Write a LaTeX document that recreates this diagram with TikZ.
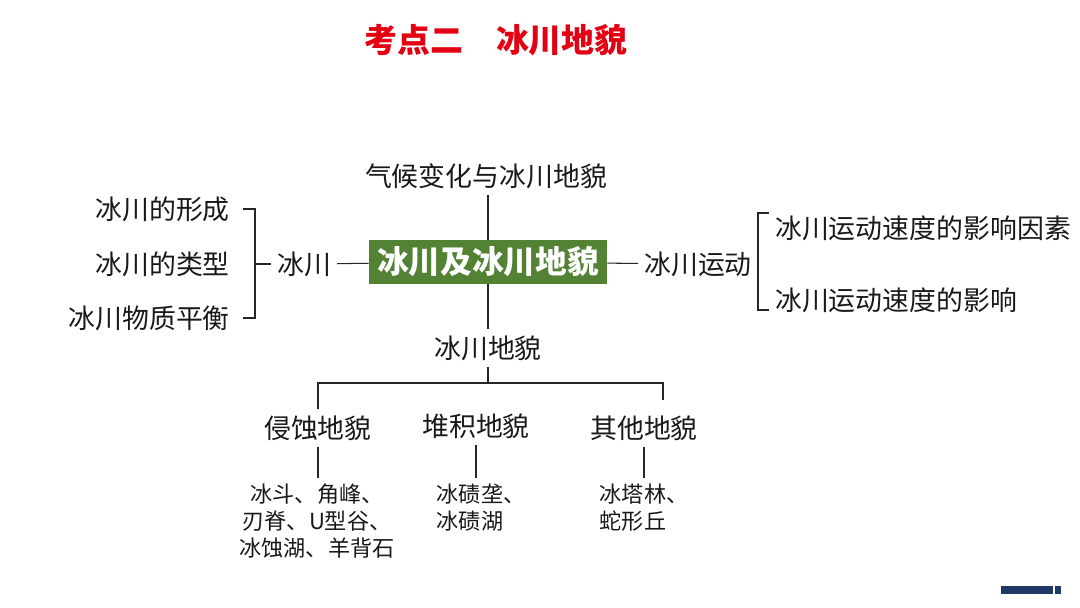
\documentclass[tikz,border=0pt]{standalone}
\usepackage{fontspec}
\setmainfont{Noto Sans CJK SC}
\definecolor{coregreen}{RGB}{84,130,53}
\definecolor{titlered}{RGB}{226,0,18}
\definecolor{barblue}{RGB}{31,56,100}
\begin{document}
\begin{tikzpicture}[x=0.02cm,y=-0.02cm,
    item/.style={font=\fontsize{15.3}{18}\selectfont,text=black!90},
    small/.style={font=\fontsize{12.6}{15.3}\selectfont,text=black!90},
    link/.style={draw=black!85,line width=0.6pt}]
  \useasboundingbox (0,0) rectangle (1080,608);
  % title
  \node[font=\fontsize{18.7}{22}\selectfont\bfseries,text=titlered] (title) at (496,40) {考点二\hspace{1em}冰川地貌};
  % centre
  \node[fill=coregreen,text=white,font=\fontsize{18}{20}\selectfont\bfseries,
        minimum width=4.76cm,minimum height=0.88cm] (core) at (488,262) {冰川及冰川地貌};
  \node[item] (climate) at (486,176) {气候变化与冰川地貌};
  \draw[link] (core.north) -- (core.north |- climate.south);
  % left branch
  \node[item] (glacier) at (304,264) {冰川};
  \node[item,anchor=east] (form) at (236,209) {冰川的形成};
  \node[item,anchor=east] (kind) at (236,264) {冰川的类型};
  \node[item,anchor=east] (balance) at (236,318) {冰川物质平衡};
  \coordinate (lbt) at (255,209);
  \coordinate (lbb) at (255,318);
  \draw[link] ([xshift=4pt]form.east) -- (lbt) -- (lbb) -- ([xshift=4pt]balance.east);
  \draw[link] (lbt |- glacier) -- (glacier.west);
  \draw[link] (glacier) -- (core);
  % right branch
  \node[item] (motion) at (698,264) {冰川运动};
  \node[item,anchor=west] (factor) at (769,228) {冰川运动速度的影响因素};
  \node[item,anchor=west] (effect) at (769,300) {冰川运动速度的影响};
  \coordinate (rbt) at (758,213);
  \coordinate (rbb) at (758,310);
  \draw[link] (core) -- (motion);
  \draw[link] (factor.west |- rbt) -- (rbt) -- (rbb) -- (effect.west |- rbb);
  \draw[link] (motion.east) -- (motion.east -| rbt);
  % lower branch
  \node[item] (landform) at (488,348) {冰川地貌};
  \draw[link] (core) -- (landform);
  \node[item] (erosion) at (318,428) {侵蚀地貌};
  \node[item] (deposit) at (476,426) {堆积地貌};
  \node[item] (other) at (644,428) {其他地貌};
  \coordinate (bus) at (490,383);
  \coordinate (busr) at (663,383);
  \coordinate (dropr) at (663,400);
  \draw[link] (landform.south) -- (landform.south |- bus);
  \draw[link] (erosion.north) -- (erosion.north |- bus) -- (busr) -- (dropr);
  \node[small,align=center] (erosionex) at (317,521) {冰斗、角峰、\\刃脊、U型谷、\\冰蚀湖、羊背石};
  \node[small,align=left] (depositex) at (481,508) {冰碛垄、\\冰碛湖};
  \node[small,align=left] (otherex) at (644,508) {冰塔林、\\蛇形丘};
  \draw[link] (erosion) -- (erosion |- erosionex.north);
  \draw[link] (deposit) -- (deposit |- depositex.north);
  \draw[link] (other) -- (other |- otherex.north);
  % corner mark
  \fill[barblue] (1001,586) rectangle (1053,594);
  \fill[barblue] (1055,586) rectangle (1061,594);
\end{tikzpicture}
\end{document}
